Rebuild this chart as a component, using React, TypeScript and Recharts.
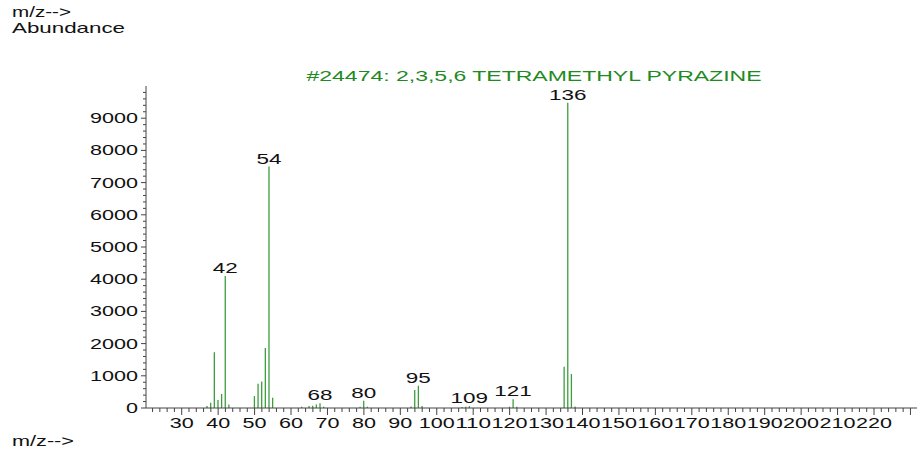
import { BarChart, Bar, XAxis, YAxis, LabelList } from "recharts";

// ion m/z values and their abundance
const mz = [37, 38, 39, 40, 41, 42, 43, 50, 51, 52, 53, 54, 55, 63, 65, 66, 67, 68, 69, 79, 80, 81, 93, 94, 95, 96, 107, 108, 109, 120, 121, 122, 135, 136, 137, 138];
const abundance = [60, 165, 1730, 250, 435, 4100, 110, 370, 755, 820, 1860, 7500, 320, 40, 60, 70, 110, 145, 40, 40, 225, 40, 50, 560, 690, 60, 30, 40, 60, 40, 270, 40, 1280, 9480, 1055, 50];
const labelledPeaks = [42, 54, 68, 80, 95, 109, 121, 136];
const xLabels = [30, 40, 50, 60, 70, 80, 90, 100, 110, 120, 130, 140, 150, 160, 170, 180, 190, 200, 210, 220];
const yLabels = [0, 1000, 2000, 3000, 4000, 5000, 6000, 7000, 8000, 9000];

const title = "#24474: 2,3,5,6 TETRAMETHYL PYRAZINE";

const rows = mz.map((m, i) => ({ mz: m, ab: abundance[i] }));

const xTicks: number[] = [];
for (let v = 22; v <= 230; v += 2) xTicks.push(v);
const yTicks: number[] = [];
for (let v = 0; v <= 9800; v += 200) yTicks.push(v);

const FONT = "'Liberation Sans', Arial, sans-serif";
const AXIS = "#444";
const BAR = "#3d9d3d";
const TITLE = "#1f8a1f";

// the source image is stretched sideways, so every text gets a fixed width
function Txt({ x, y, s, w, anchor = "start", fill = "#111" }: any) {
  return (
    <text x={x} y={y} textAnchor={anchor} fontFamily={FONT} fontSize={14.5} fill={fill}
      textLength={w} lengthAdjust="spacingAndGlyphs">
      {s}
    </text>
  );
}

function XTick({ x, y, payload }: any) {
  const v = payload.value;
  const major = v % 10 === 0;
  return (
    <g>
      <line x1={x} x2={x} y1={y} y2={y + (major ? 7 : 4)} stroke={AXIS} />
      {xLabels.includes(v) && <Txt x={x} y={y + 20} s={String(v)} w={String(v).length * 12} anchor="middle" />}
    </g>
  );
}

function YTick({ x, y, payload }: any) {
  const v = payload.value;
  const major = yLabels.includes(v);
  return (
    <g>
      <line x1={x} x2={x - (major ? 5 : 3)} y1={y} y2={y} stroke={AXIS} />
      {major && <Txt x={x - 8} y={y + 5} s={String(v)} w={String(v).length * 12} anchor="end" />}
    </g>
  );
}

function PeakLabel({ x, y, width, value }: any) {
  if (!labelledPeaks.includes(value)) return null;
  const s = String(value);
  return <Txt x={x + width / 2} y={y - 3} s={s} w={s.length * 12.5} anchor="middle" />;
}

export default function App() {
  return (
    <div style={{ position: "absolute", left: 0, top: 0, width: 919, height: 461, background: "#fff" }}>
      <svg width={919} height={461} style={{ position: "absolute", left: 0, top: 0 }}>
        <Txt x={12} y={17} s="m/z-->" w={59} />
        <Txt x={12} y={33} s="Abundance" w={113} />
        <Txt x={12} y={446} s="m/z-->" w={62} />
        <Txt x={534} y={80.5} s={title} w={455} anchor="middle" fill={TITLE} />
      </svg>
      <div style={{ position: "absolute", left: 0, top: 0 }}>
        <BarChart width={919} height={461} data={rows} margin={{ top: 86, right: 2, bottom: 23, left: 86 }}>
          <XAxis dataKey="mz" type="number" domain={[20.2, 231.8]} ticks={xTicks} interval={0}
            tickSize={0} tickMargin={0} tick={<XTick />} axisLine={{ stroke: AXIS }} height={30} allowDataOverflow />
          <YAxis type="number" domain={[0, 10000]} ticks={yTicks} interval={0}
            tickSize={0} tickMargin={0} tick={<YTick />} axisLine={{ stroke: AXIS }} width={60} allowDataOverflow />
          <Bar dataKey="ab" fill={BAR} barSize={1.3} isAnimationActive={false}>
            <LabelList dataKey="mz" content={<PeakLabel />} />
          </Bar>
        </BarChart>
      </div>
    </div>
  );
}
